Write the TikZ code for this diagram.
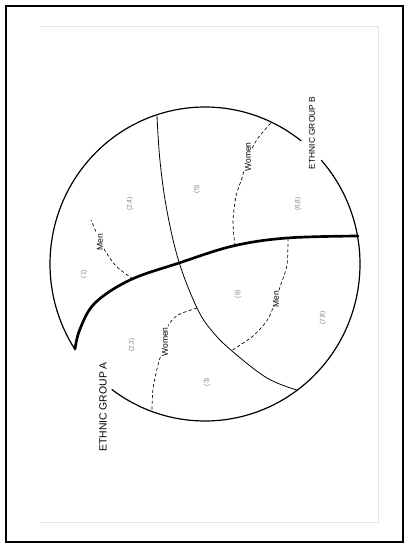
\documentclass[tikz,border=0pt]{standalone}
\usepackage{fontspec}
\setmainfont{Liberation Sans}
\usetikzlibrary{positioning}

\begin{document}
\begin{tikzpicture}[
  x=0.75pt, y=-0.75pt,
  frame/.style={draw, line width=1.3pt},
  pageedge/.style={draw=black!10, line width=0.6pt},
  rim/.style={draw, line width=0.9pt},
  groupline/.style={draw, line width=2pt, line cap=round},
  crossline/.style={draw, line width=0.6pt},
  sexline/.style={draw, line width=0.5pt, dash pattern=on 2.4pt off 1.8pt},
  grouplabel/.style={rotate=90, inner sep=1pt},
  sexlabel/.style={rotate=90, fill=white, inner sep=0.8pt, font=\fontsize{6.4}{7}\selectfont},
  cell/.style={rotate=90, inner sep=0pt, text=black!50, font=\fontsize{5}{6}\selectfont}
]
\useasboundingbox (0,0) rectangle (409,548);

% Frame of the plate
\draw[frame] (6,6) rectangle (403,542);
\draw[pageedge] (40,26) -- (378,26) -- (378,522) -- (40,522);

% Outer circle, broken where the group names sit
\draw[rim] plot[domain=-41.4:127, samples=140] ({205+155*cos(\x)},{264+157*sin(\x)});
\draw[rim] plot[domain=146.8:308.4, samples=140] ({205+155*cos(\x)},{264+157*sin(\x)});

% Ethnic boundary and cross-cutting line
\draw[groupline] plot[smooth, tension=0.6] coordinates {(75,349) (80,329) (95,303) (130,280) (179,263) (233,246) (287,238) (358,236)};
\draw[crossline] plot[smooth, tension=0.6] coordinates {(157,116) (160,161) (167,211) (179,262) (197,308) (212,331) (232,351) (267,378) (297,390)};

% Sex boundaries
\draw[sexline] plot[smooth] coordinates {(133,279) (116,266) (104,249) (97,234) (91,220)};
\draw[sexline] plot[smooth] coordinates {(235,246) (233,222) (236,196) (242,178) (248,157) (258,138) (272,122)};
\draw[sexline] plot[smooth] coordinates {(288,238) (287,265) (281,284) (276,299) (268,319) (253,336) (231,351)};
\draw[sexline] plot[smooth] coordinates {(197,308) (178,315) (168,326) (165,342) (158,365) (153,389) (152,410)};

\node[sexlabel] (menA) at (100,242) {Men};
\node[sexlabel] (womenA) at (165,342) {Women};
\node[sexlabel] (womenB) at (248,157) {Women};
\node[sexlabel] (menB) at (276,299) {Men};

% Group names
\node[grouplabel, font=\fontsize{7.8}{9}\selectfont] (groupA) at (103,407) {ETHNIC GROUP A};
\node[grouplabel, font=\fontsize{6.3}{7}\selectfont] (groupB) at (312,133) {ETHNIC GROUP B};

% Cells
\node[cell] (cellA1) at (84,274) {(1)};
\node[cell] (cellA2) at (130,204) {(2,4)};
\node[cell] (cellA3) at (132,345) {(2,3)};
\node[cell] (cellA4) at (207,382) {(3)};
\node[cell] (cellB1) at (197,189) {(5)};
\node[cell] (cellB2) at (298,204) {(6,8)};
\node[cell] (cellB3) at (323,318) {(7,8)};
\node[cell] (cellB4) at (238,294) {(6)};

\end{tikzpicture}
\end{document}
